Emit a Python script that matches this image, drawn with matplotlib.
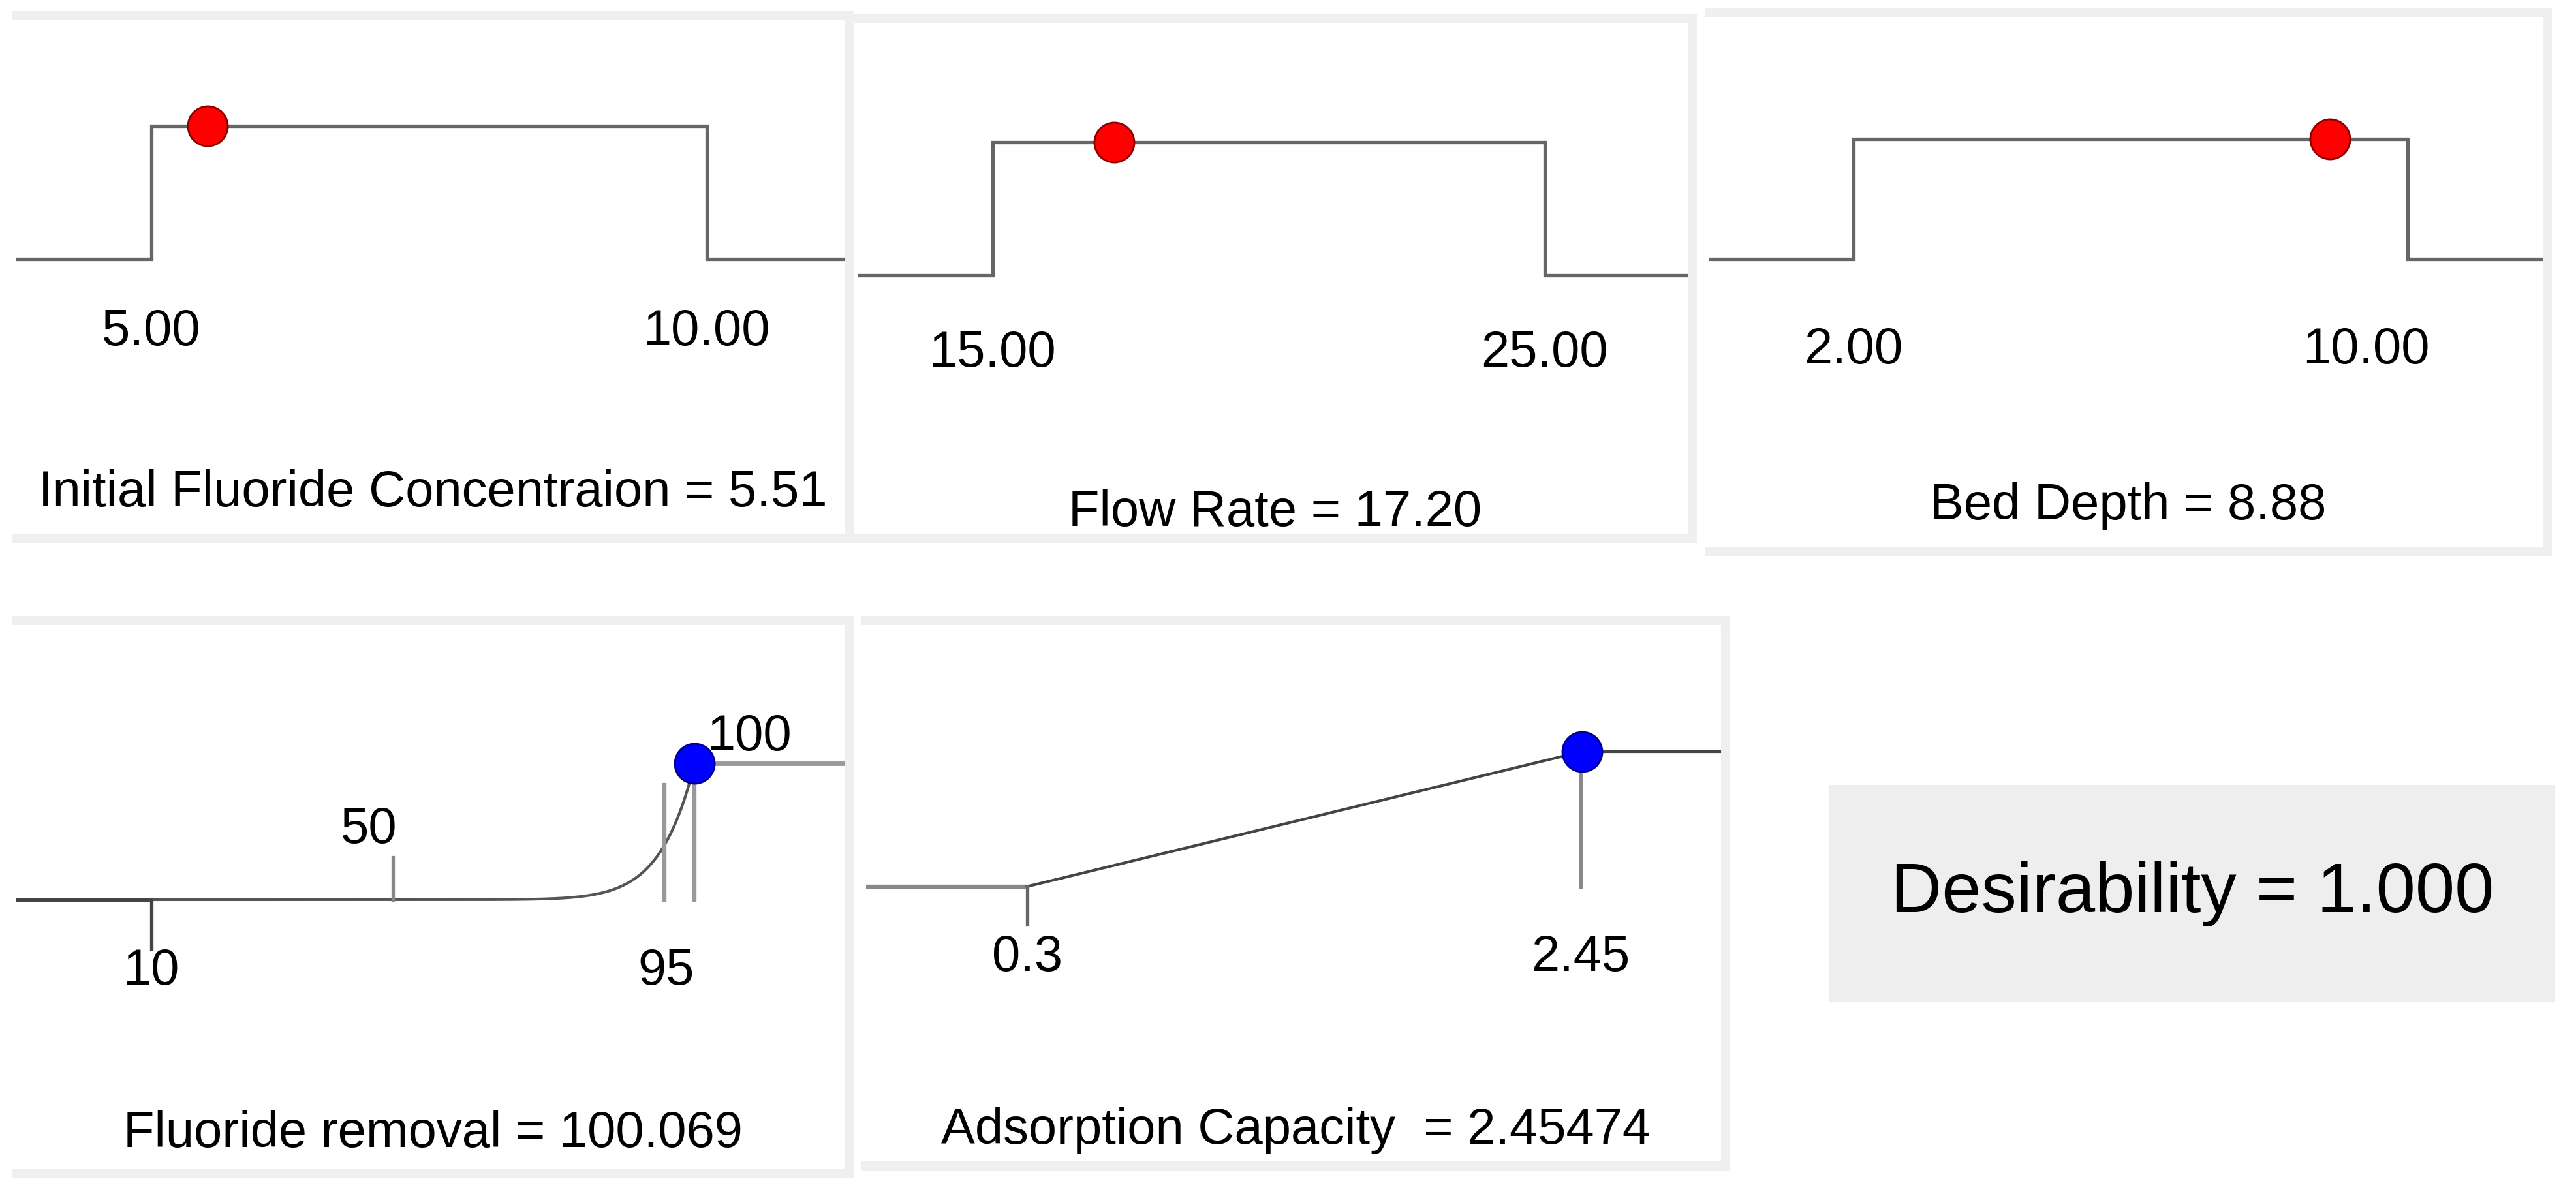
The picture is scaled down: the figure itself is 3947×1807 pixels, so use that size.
import numpy as np
import matplotlib
matplotlib.use("Agg")
import matplotlib.pyplot as plt
from matplotlib.lines import Line2D
from matplotlib.patches import Rectangle

plt.rcParams['font.family'] = ['Liberation Sans', 'DejaVu Sans']

# ---- data ----
factor_names = ["Initial Fluoride Concentraion", "Flow Rate", "Bed Depth"]
factor_low = [5.00, 15.00, 2.00]
factor_high = [10.00, 25.00, 10.00]
factor_value = [5.51, 17.20, 8.88]
factor_low_labels = ["5.00", "15.00", "2.00"]
factor_high_labels = ["10.00", "25.00", "10.00"]

resp1_name = "Fluoride removal"
resp1_lower, resp1_mid, resp1_target, resp1_upper = 10, 50, 95, 100
resp1_value_text = "100.069"
resp1_weight = 16

resp2_name = "Adsorption Capacity "
resp2_lower, resp2_upper = 0.3, 2.45
resp2_value = 2.45474
resp2_value_text = "2.45474"

desirability_text = "Desirability = 1.000"

W, H = 1568.0, 718.0
fig = plt.figure(figsize=(39.48, 18.08), dpi=100)
fig.patch.set_facecolor('white')

def make_ax(box, xa, ya):
    x0, y0, x1, y1 = box
    ax = fig.add_axes([x0 / W, 1 - y1 / H, (x1 - x0) / W, (y1 - y0) / H])
    (v0, p0), (v1, p1) = xa
    s = (v1 - v0) / (p1 - p0)
    ax.set_xlim(v0 - (p0 - x0) * s, v1 + (x1 - p1) * s)
    (d0, q0), (d1, q1) = ya
    t = (d1 - d0) / (q0 - q1)
    ax.set_ylim(d0 - (y1 - q0) * t, d1 + (q1 - y0) * t)
    ax.axis('off')
    return ax

def frame(box):
    x0, y0, x1, y1 = box
    xs = [x0 / W, x1 / W, x1 / W, x0 / W]
    ys = [1 - y0 / H, 1 - y0 / H, 1 - y1 / H, 1 - y1 / H]
    fig.lines.append(Line2D(xs, ys, transform=fig.transFigure, color='#efefef', lw=10,
                            solid_joinstyle='miter', zorder=0))

LC = '#666666'
LW = 3.8
FS = 56
MS = 44

fboxes = [(10, 10, 517, 328), (522, 12, 1030, 328), (1040, 8, 1550, 336)]
fpx = [(92, 430), (604, 940), (1128, 1465)]
fpy = [(158, 77), (168, 87), (158, 85)]
ftitle_y = [300, 312, 308]
flab_y = [202, 215, 213]
fhigh_shift = [0, 0, -25]
for i in range(3):
    frame(fboxes[i])
    ax = make_ax(fboxes[i], ((factor_low[i], fpx[i][0]), (factor_high[i], fpx[i][1])),
                 ((0, fpy[i][0]), (1, fpy[i][1])))
    xl = ax.get_xlim()
    lo, hi = factor_low[i], factor_high[i]
    ax.plot([xl[0], lo, lo, hi, hi, xl[1]], [0, 0, 1, 1, 0, 0], color=LC, lw=LW,
            solid_joinstyle='miter')
    ax.plot([factor_value[i]], [1], 'o', ms=MS, mfc='#ff0000', mec='#880000', mew=2, zorder=5)
    x0, y0, x1, y1 = fboxes[i]
    ax.text((fpx[i][0] - x0) / (x1 - x0), 1 - (flab_y[i] - y0) / (y1 - y0), factor_low_labels[i],
            transform=ax.transAxes, ha='center', va='center', fontsize=FS)
    ax.text((fpx[i][1] + fhigh_shift[i] - x0) / (x1 - x0), 1 - (flab_y[i] - y0) / (y1 - y0),
            factor_high_labels[i], transform=ax.transAxes, ha='center', va='center', fontsize=FS)
    ax.text(0.5, 1 - (ftitle_y[i] - y0) / (y1 - y0), f"{factor_names[i]} = {factor_value[i]:.2f}",
            transform=ax.transAxes, ha='center', va='center', fontsize=FS)

# response 1
b4 = (10, 378, 517, 715)
frame(b4)
ax = make_ax(b4, ((resp1_lower, 92), (resp1_mid, 239)), ((0, 548), (1, 465)))
xl = ax.get_xlim()
v = np.linspace(resp1_lower, resp1_upper, 300)
d = ((v - resp1_lower) / (resp1_upper - resp1_lower)) ** resp1_weight
ax.plot([xl[0], resp1_lower], [0, 0], color='#444444', lw=LW)
ax.plot(v, d, color='#555555', lw=LW * 0.8)
ax.plot([resp1_upper, xl[1]], [1, 1], color='#999999', lw=LW * 1.3)
ax.plot([resp1_lower, resp1_lower], [0, -0.36], color='#444444', lw=LW)
ax.plot([resp1_mid, resp1_mid], [0, 0.31], color='#888888', lw=LW)
ax.plot([resp1_target, resp1_target], [0, 0.84], color='#999999', lw=LW * 1.2)
ax.plot([resp1_upper, resp1_upper], [0, 0.84], color='#999999', lw=LW * 1.2)
ax.plot([resp1_upper], [1], 'o', ms=MS, mfc='#0000ff', mec='#000088', mew=2, zorder=5)
ax.text(resp1_lower, -0.52, "10", ha='center', va='center', fontsize=FS)
ax.text(resp1_mid - 4, 0.52, "50", ha='center', va='center', fontsize=FS)
ax.text(resp1_target + 0.3, -0.52, "95", ha='center', va='center', fontsize=FS)
ax.text(resp1_upper + 9, 1.2, "100", ha='center', va='center', fontsize=FS)
ax.text(0.5, 1 - (690 - b4[1]) / (b4[3] - b4[1]), f"{resp1_name} = {resp1_value_text}",
        transform=ax.transAxes, ha='center', va='center', fontsize=FS)

# response 2
b5 = (527, 378, 1050, 710)
frame(b5)
ax = make_ax(b5, ((resp2_lower, 625), (resp2_upper, 962)), ((0, 540), (1, 458)))
xl = ax.get_xlim()
ax.plot([xl[0], resp2_lower], [0, 0], color='#888888', lw=LW * 1.2)
ax.plot([resp2_lower, resp2_upper], [0, 1], color='#444444', lw=LW * 0.8)
ax.plot([resp2_upper, xl[1]], [1, 1], color='#444444', lw=LW * 0.8)
ax.plot([resp2_lower, resp2_lower], [0, -0.28], color='#666666', lw=LW)
ax.plot([resp2_upper, resp2_upper], [0, 1], color='#888888', lw=LW)
ax.plot([resp2_value], [1], 'o', ms=MS, mfc='#0000ff', mec='#000088', mew=2, zorder=5)
ax.text(resp2_lower, -0.52, "0.3", ha='center', va='center', fontsize=FS)
ax.text(resp2_upper, -0.52, "2.45", ha='center', va='center', fontsize=FS)
ax.text(0.5, 1 - (688 - b5[1]) / (b5[3] - b5[1]), f"{resp2_name} = {resp2_value_text}",
        transform=ax.transAxes, ha='center', va='center', fontsize=FS)

# desirability box
bx = (1113, 478, 1555, 610)
fig.patches.append(Rectangle((bx[0] / W, 1 - bx[3] / H), (bx[2] - bx[0]) / W, (bx[3] - bx[1]) / H,
                             transform=fig.transFigure, facecolor='#eeeeee', edgecolor='none'))
fig.text((bx[0] + bx[2]) / 2 / W, 1 - (bx[1] + bx[3]) / 2 / H, desirability_text,
         ha='center', va='center', fontsize=78)

fig.savefig("out.png", dpi=100)
